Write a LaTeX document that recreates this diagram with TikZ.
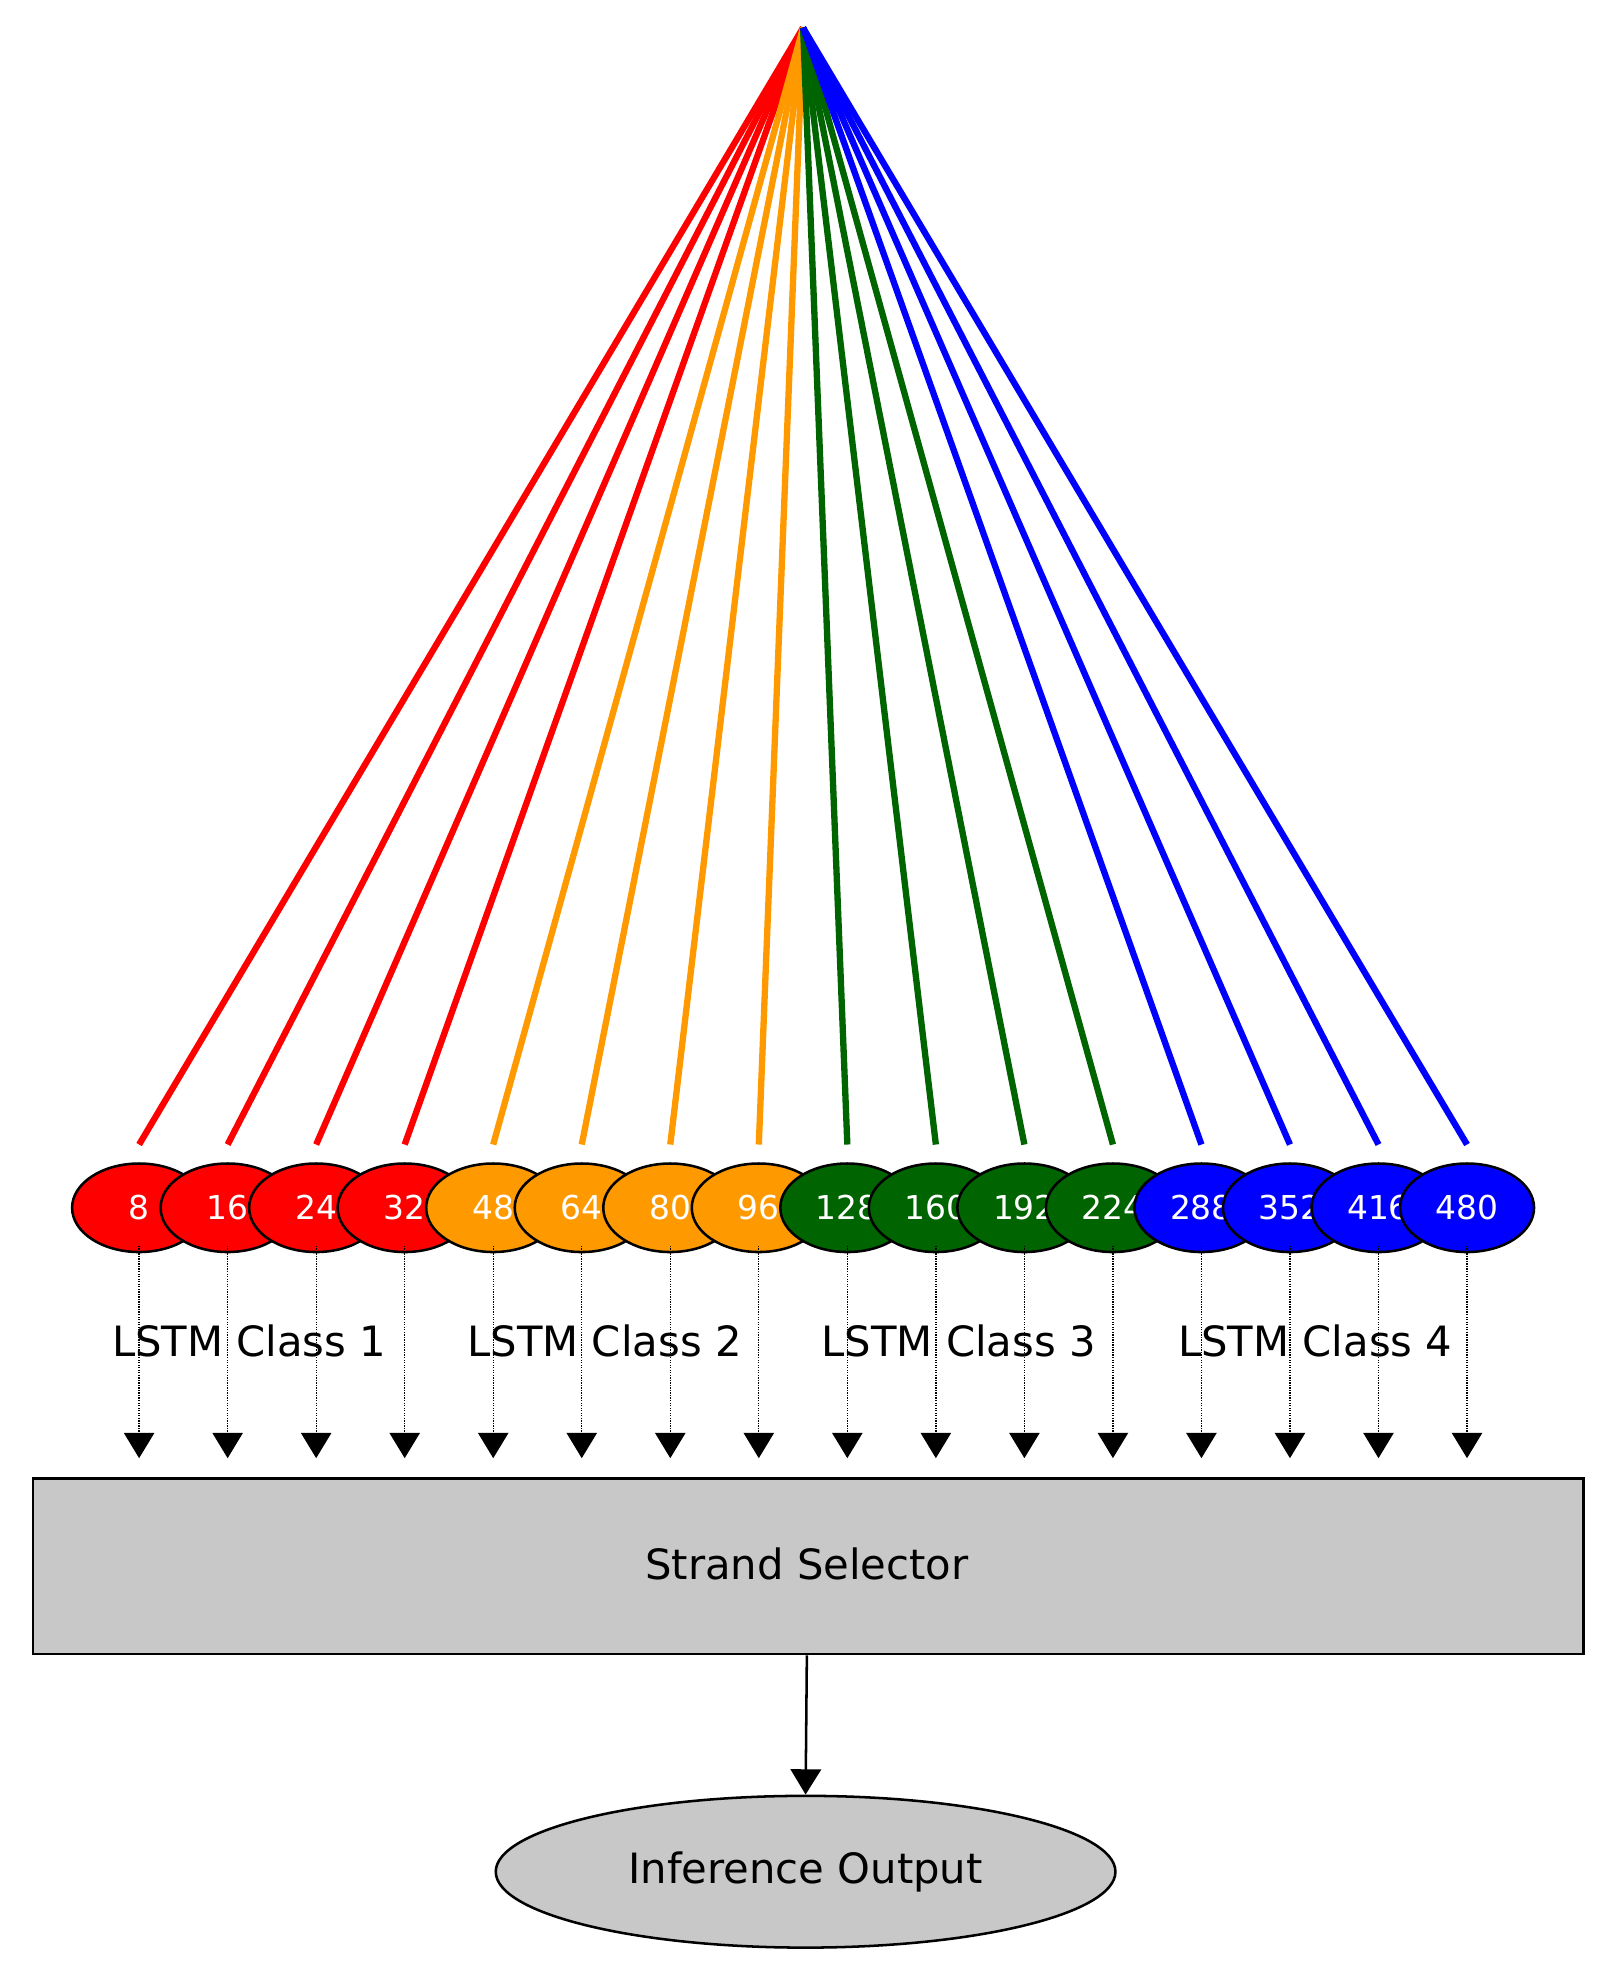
\documentclass[tikz,border=0pt]{standalone}
\usepackage{fontspec}
\setmainfont{DejaVu Sans}
\usetikzlibrary{arrows.meta,shapes.geometric}
\definecolor{cR}{HTML}{FF0000}
\definecolor{cO}{HTML}{FF9900}
\definecolor{cG}{HTML}{006400}
\definecolor{cB}{HTML}{0000FF}
\definecolor{boxgray}{HTML}{C8C8C8}
\begin{document}
\begin{tikzpicture}[x=1pt,y=-1pt,
  strand/.style={ellipse,draw=black,line width=2pt,minimum width=106pt,minimum height=70pt,inner sep=0pt,text=white,font=\fontsize{26}{30}\selectfont},
  fan/.style={line width=5pt},
  feed/.style={densely dotted,line width=1pt,-{Triangle[width=24pt,length=20pt]}},
  lab/.style={font=\fontsize{33}{38}\selectfont}]
\useasboundingbox (0,0) rectangle (1270,1568);
\coordinate (apex) at (635,22);
\foreach \v/\c [count=\i from 0] in {8/cR,16/cR,24/cR,32/cR,48/cO,64/cO,80/cO,96/cO,128/cG,160/cG,192/cG,224/cG,288/cB,352/cB,416/cB,480/cB}{
  \coordinate (t\i) at ({110+70*\i},905);
  \draw[fan,draw=\c] (apex) -- (t\i);
}
\foreach \v/\c [count=\i from 0] in {8/cR,16/cR,24/cR,32/cR,48/cO,64/cO,80/cO,96/cO,128/cG,160/cG,192/cG,224/cG,288/cB,352/cB,416/cB,480/cB}{
  \node[strand,fill=\c] (e\i) at ({110+70*\i},955) {\v};
}
\node[lab] (l1) at (197,1060) {LSTM Class 1};
\node[lab] (l2) at (478,1060) {LSTM Class 2};
\node[lab] (l3) at (758,1060) {LSTM Class 3};
\node[lab] (l4) at (1040,1060) {LSTM Class 4};
\foreach \i in {0,...,15}{
  \coordinate (a\i) at ({110+70*\i},1153);
  \draw[feed] ([yshift=-30pt]e\i.center) -- (a\i);
}
\node[draw=black,line width=2pt,fill=boxgray,minimum width=1226pt,minimum height=139pt,anchor=north west,lab] (sel) at (25,1168) {};
\node[lab] (selt) at (638,1237) {Strand Selector};
\node[ellipse,draw=black,line width=2pt,fill=boxgray,minimum width=490pt,minimum height=120pt,lab] (out) at (637,1480) {Inference Output};
\draw[line width=2pt,-{Triangle[width=24pt,length=20pt]}] (sel.south -| selt) -- (out.north);
\end{tikzpicture}
\end{document}
